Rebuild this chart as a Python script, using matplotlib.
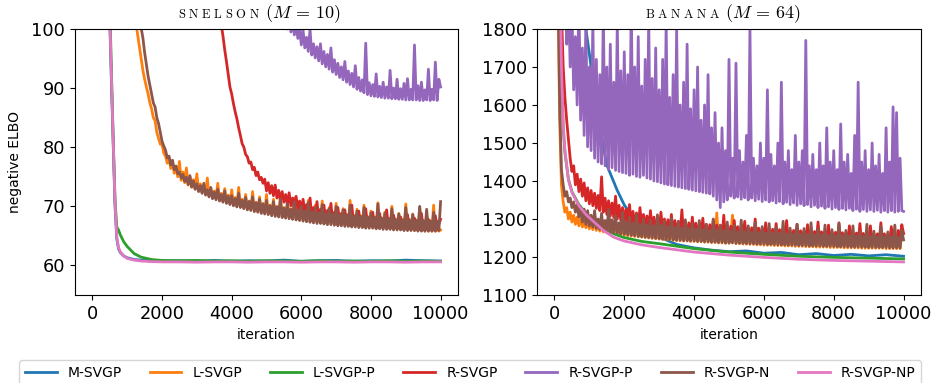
import numpy as np
import matplotlib
matplotlib.use("Agg")
import matplotlib.pyplot as plt

plt.rcParams['mathtext.fontset'] = 'cm'
plt.rcParams['font.family'] = ['DejaVu Sans']

labels = ["M-SVGP", "L-SVGP", "L-SVGP-P", "R-SVGP", "R-SVGP-P", "R-SVGP-N", "R-SVGP-NP"]
colors = ["#1f77b4", "#ff7f0e", "#2ca02c", "#d62728", "#9467bd", "#8c564b", "#e377c2"]

# shared iteration grid for the noisy curves (every 50 iterations)
grid_iter = list(range(0, 10001, 50))

# ---------------- SNELSON (M = 10) ----------------
snel_smooth_iter = [0, 300, 450, 500, 550, 600, 650, 700, 750, 800, 900, 1000, 1200, 1400, 1700, 2000,
                    2500, 3000, 3500, 4000, 4500, 5000, 5500, 6000, 6500, 7000, 7500, 8000, 8500, 9000, 9500, 10000]
snel_m_svgp = [500, 180, 118, 101, 90, 80, 70, 64.5, 62.8, 62.2, 61.6, 61.3, 61.0, 60.9, 60.8, 60.75,
               60.8, 60.7, 60.85, 60.7, 60.8, 60.75, 60.9, 60.7, 60.8, 60.85, 60.7, 60.8, 60.75, 60.9, 60.8, 60.75]
snel_l_svgp_p = [500, 200, 125, 104, 92, 81, 71, 66.5, 66.0, 65.2, 64.0, 63.2, 62.0, 61.4, 61.0, 60.85,
                 60.8, 60.85, 60.75, 60.8, 60.7, 60.8, 60.75, 60.7, 60.8, 60.7, 60.75, 60.7, 60.8, 60.7, 60.75, 60.7]
snel_r_svgp_np = [500, 190, 120, 102, 91, 80.5, 70.5, 64.8, 63.0, 62.3, 61.6, 61.2, 60.9, 60.75, 60.65, 60.6,
                  60.6, 60.55, 60.6, 60.6, 60.55, 60.6, 60.6, 60.55, 60.6, 60.6, 60.55, 60.6, 60.6, 60.55, 60.6, 60.6]

snel_l_svgp = [
    600, 520, 450, 400, 350, 310, 280, 255, 230, 212, 195, 182, 170, 160, 150, 142, 135, 129, 123, 118,
    114, 111, 108, 105.5, 103, 101, 99, 97, 95, 93, 91.5, 90.2, 89, 87.5, 86.5, 85, 84.5, 82.5, 81.5, 80.5,
    80.5, 79, 78.5, 77.3, 78.2, 76.4, 77.5, 75.6, 76.8, 75.0, 77.6, 74.4, 75.8, 74.0, 76.5, 73.6, 75.0, 73.2, 74.5, 72.9,
    75.5, 72.6, 73.8, 72.3, 73.6, 72.0, 74.8, 71.7, 73.0, 71.5, 72.6, 71.3, 73.9, 71.0, 72.2, 70.8, 73.0, 70.6, 71.9, 70.4,
    72.8, 70.2, 71.5, 70.0, 73.2, 69.9, 71.2, 69.7, 72.0, 69.5, 70.9, 69.4, 72.5, 69.2, 70.7, 69.1, 71.6, 68.9, 70.5, 68.8,
    72.0, 68.7, 70.2, 68.6, 71.2, 68.4, 70.0, 68.3, 71.8, 68.2, 69.8, 68.1, 70.8, 68.0, 69.6, 67.9, 71.4, 67.8, 69.5, 67.7,
    70.5, 67.6, 69.3, 67.5, 71.0, 67.4, 69.2, 67.3, 70.2, 67.3, 69.0, 67.2, 70.9, 67.1, 68.9, 67.0, 69.8, 67.0, 68.8, 66.9,
    70.5, 66.9, 68.7, 66.8, 69.6, 66.8, 68.6, 66.7, 71.0, 66.7, 68.5, 66.6, 69.5, 66.6, 68.4, 66.5, 70.2, 66.5, 68.3, 66.4,
    69.2, 66.4, 68.2, 66.3, 70.6, 66.3, 68.1, 66.3, 69.0, 66.2, 68.0, 66.2, 70.0, 66.1, 67.9, 66.1, 68.8, 66.1, 67.8, 66.0,
    70.4, 66.0, 67.8, 66.0, 68.7, 65.9, 67.7, 65.9, 69.8, 65.9, 67.6, 65.8, 68.5, 65.8, 67.6, 65.8, 70.2, 65.8, 67.5, 65.8,
    66.0]
snel_r_svgp = [
    3000, 2500, 2100, 1780, 1520, 1300, 1120, 975, 855, 755, 670, 600, 540, 490, 448, 412, 381, 355, 333, 314,
    297, 282, 268, 256, 245, 235, 226, 218, 210, 203, 196, 190, 184, 178.5, 173, 168, 163.5, 159, 155, 151,
    147.5, 144, 141, 138, 135.5, 133, 130.5, 128.5, 126.5, 124.5, 122.5, 121, 119.5, 118, 116.5, 115, 113.5, 112, 110.7, 109.4,
    132, 129.5, 127, 124.5, 122, 119.5, 117, 114.5, 112, 110, 108, 105.7, 103.3, 101.8, 100.8, 98.8, 96.5, 94.5, 92.3, 90.2,
    89.0, 87.4, 86.0, 84.8, 83.3, 82.0, 80.6, 80.0, 78.8, 78.4, 77.3, 77.5, 76.2, 76.6, 75.2, 75.8, 74.5, 74.9, 73.9, 74.6,
    72.6, 74.0, 72.2, 73.5, 71.8, 73.6, 71.4, 72.7, 71.0, 72.5, 70.7, 72.0, 70.4, 72.3, 70.1, 71.4, 69.8, 71.7, 69.5, 70.9,
    69.2, 71.2, 68.9, 70.3, 68.6, 71.4, 68.3, 69.8, 68.1, 70.8, 67.9, 69.5, 67.8, 70.2, 67.6, 69.3, 67.5, 70.5, 67.4, 69.0,
    67.3, 69.8, 67.2, 68.8, 67.1, 69.4, 67.0, 68.6, 67.0, 70.2, 66.9, 68.4, 66.9, 69.2, 66.8, 68.2, 66.8, 69.6, 66.7, 68.1,
    66.7, 69.0, 66.6, 67.9, 66.6, 68.8, 66.5, 67.8, 66.5, 69.4, 66.4, 67.7, 66.4, 68.5, 66.4, 67.6, 66.3, 68.2, 66.3, 67.5,
    66.3, 68.6, 66.2, 67.4, 66.2, 68.0, 66.2, 67.3, 66.1, 68.8, 66.1, 67.2, 66.1, 67.8, 66.1, 67.1, 66.0, 68.4, 66.0, 67.0,
    67.8]
snel_r_svgp_p = [
    3000, 2800, 2600, 2420, 2250, 2090, 1940, 1800, 1670, 1550, 1440, 1340, 1245, 1160, 1080, 1005, 935, 870, 810, 755,
    705, 658, 615, 575, 538, 504, 472, 443, 416, 391, 368, 347, 327, 309, 292, 277, 263, 250, 238, 227,
    217, 207, 198, 190, 182, 175, 168, 162, 156, 151, 146, 141.5, 137.5, 133.5, 130, 127, 124, 121.5, 119, 117,
    115, 117, 114, 116, 113.5, 115.8, 113, 115, 112.2, 114.3, 111.6, 113.8, 111, 113, 110.4, 112.5, 109.8, 112, 109.3, 111.2,
    108.8, 110.8, 108.2, 110, 107.7, 109.8, 107.1, 109, 106.6, 108.5, 106, 108.2, 105.5, 107.4, 105, 106.8, 104.5, 106.5, 104, 105.8,
    103.5, 105.2, 102.9, 104.5, 102.4, 103.8, 101.8, 103.5, 101.2, 102.8, 100.6, 102.5, 100.0, 101.9, 99.5, 101.2, 99.0, 100.8, 98.4, 100.3,
    97.3, 99.8, 96.8, 98.6, 96.2, 100.0, 95.6, 97.5, 95.1, 97.0, 94.6, 97.5, 94.1, 96.2, 93.6, 95.7, 93.2, 96.8, 92.7, 94.8,
    92.3, 94.2, 91.8, 93.6, 91.4, 94.5, 91.0, 92.9, 90.6, 92.5, 90.2, 93.8, 89.8, 91.8, 89.5, 91.4, 89.2, 97.6, 88.9, 90.9,
    88.7, 90.6, 88.6, 92.4, 88.5, 90.3, 88.4, 91.0, 88.3, 90.2, 88.3, 93.0, 88.2, 90.0, 88.2, 91.5, 88.1, 89.9, 88.1, 90.8,
    88.0, 91.6, 88.0, 89.8, 88.0, 97.3, 88.0, 90.4, 87.9, 91.0, 87.9, 89.7, 88.0, 93.2, 87.9, 89.8, 88.0, 94.4, 87.9, 91.5,
    90.2]
snel_r_svgp_n = [
    700, 610, 520, 460, 400, 355, 320, 290, 260, 237, 215, 199, 185, 173, 162, 153, 145, 138, 132, 126,
    121, 117, 113, 110, 107, 105, 103, 101.5, 100.2, 98.5, 96, 94, 92, 90.5, 89, 87.5, 86.8, 85, 84, 82.5,
    81, 80.2, 79.5, 78.2, 78.5, 77, 77.8, 76.2, 76.8, 75.5, 75.8, 74.8, 75.4, 74.2, 74.9, 73.7, 75.2, 73.3, 74.3, 72.9,
    73.8, 72.5, 73.5, 72.2, 73.9, 71.9, 72.8, 71.6, 73.2, 71.3, 72.4, 71.1, 72.9, 70.9, 72.0, 70.7, 72.6, 70.5, 71.7, 70.3,
    71.8, 70.1, 71.3, 69.9, 72.2, 69.8, 71.0, 69.6, 71.5, 69.4, 70.8, 69.3, 71.6, 69.1, 70.6, 69.0, 71.2, 68.8, 70.4, 68.7,
    71.0, 68.6, 70.1, 68.4, 70.8, 68.3, 69.9, 68.2, 71.2, 68.1, 69.7, 68.0, 70.5, 67.9, 69.5, 67.8, 70.8, 67.7, 69.3, 67.6,
    70.0, 67.5, 69.2, 67.4, 70.6, 67.3, 69.0, 67.2, 69.8, 67.1, 68.9, 67.1, 70.3, 67.0, 68.8, 66.9, 69.6, 66.9, 68.7, 66.8,
    70.0, 66.7, 68.6, 66.7, 69.4, 66.6, 68.5, 66.6, 70.2, 66.5, 68.4, 66.5, 69.2, 66.4, 68.3, 66.4, 69.8, 66.3, 68.2, 66.3,
    68.9, 66.3, 68.1, 66.2, 70.4, 66.2, 68.0, 66.1, 68.8, 66.1, 67.9, 66.1, 69.6, 66.0, 67.8, 66.0, 68.7, 66.0, 67.7, 65.9,
    69.8, 65.9, 67.7, 65.9, 68.6, 65.9, 67.6, 65.8, 70.0, 65.8, 67.6, 65.8, 69.5, 65.8, 67.5, 65.8, 69.0, 65.8, 67.5, 65.9,
    70.8]

# ---------------- BANANA (M = 64) ----------------
ban_m_iter = [0, 500, 800, 900, 1000, 1200, 1500, 1800, 2000, 2300, 2600, 3000, 3500, 4000,
              4500, 5000, 5500, 6000, 6500, 7000, 7500, 8000, 8500, 9000, 9500, 10000]
ban_m_svgp = [6000, 2300, 1900, 1800, 1735, 1590, 1442, 1375, 1337, 1297, 1272, 1253, 1233, 1224,
              1218, 1214, 1216, 1210, 1212, 1206, 1209, 1204, 1207, 1203, 1206, 1202]

ban_smooth_iter = [0, 100, 150, 200, 250, 300, 400, 500, 700, 900, 1100, 1400, 1700, 2000,
                   2500, 3000, 4000, 5000, 6000, 7000, 8000, 9000, 10000]
ban_l_svgp_p = [5000, 2500, 1950, 1680, 1540, 1475, 1405, 1372, 1338, 1315, 1298, 1277, 1261, 1251,
                1241, 1235, 1222, 1213, 1207, 1202, 1199, 1197, 1195]
ban_r_svgp_np = [5000, 2600, 2000, 1700, 1550, 1480, 1403, 1370, 1335, 1312, 1295, 1270, 1252, 1242,
                 1232, 1225, 1213, 1205, 1199, 1194, 1191, 1189, 1187]

ban_l_svgp = [
    4000, 2600, 1900, 1560, 1390, 1345, 1318, 1330, 1300, 1318, 1292, 1310, 1286, 1305, 1282, 1300, 1279, 1296, 1277, 1292,
    1274, 1290, 1272, 1300, 1270, 1288, 1268, 1284, 1266, 1295, 1264, 1282, 1263, 1280, 1262, 1290, 1260, 1278, 1259, 1276,
    1257, 1285, 1256, 1274, 1255, 1272, 1254, 1290, 1253, 1270, 1252, 1268, 1251, 1282, 1250, 1266, 1249, 1275, 1248, 1265,
    1247, 1264, 1246, 1280, 1245, 1262, 1245, 1270, 1244, 1261, 1243, 1278, 1243, 1260, 1242, 1268, 1242, 1259, 1241, 1275,
    1241, 1258, 1240, 1266, 1240, 1257, 1239, 1272, 1239, 1256, 1238, 1264, 1238, 1316, 1237, 1262, 1237, 1255, 1236, 1270,
    1236, 1254, 1310, 1262, 1235, 1253, 1235, 1268, 1234, 1252, 1234, 1260, 1233, 1252, 1233, 1272, 1232, 1251, 1232, 1258,
    1231, 1250, 1231, 1266, 1231, 1250, 1230, 1256, 1230, 1249, 1230, 1270, 1229, 1249, 1229, 1255, 1229, 1248, 1228, 1262,
    1228, 1248, 1228, 1254, 1227, 1247, 1227, 1268, 1227, 1247, 1226, 1252, 1226, 1246, 1226, 1260, 1226, 1246, 1225, 1252,
    1225, 1245, 1225, 1266, 1225, 1245, 1224, 1251, 1224, 1244, 1224, 1258, 1224, 1244, 1224, 1250, 1223, 1244, 1223, 1264,
    1223, 1243, 1223, 1250, 1223, 1243, 1223, 1262, 1223, 1243, 1222, 1249, 1222, 1243, 1222, 1258, 1222, 1243, 1222, 1265,
    1262]
ban_r_svgp = [
    4000, 3300, 2600, 2100, 1850, 1700, 1620, 1560, 1510, 1460, 1425, 1440, 1390, 1418, 1372, 1405, 1360, 1395, 1348, 1382,
    1340, 1375, 1335, 1368, 1328, 1362, 1322, 1411, 1318, 1355, 1312, 1348, 1308, 1342, 1304, 1360, 1300, 1336, 1296, 1330,
    1292, 1326, 1289, 1338, 1286, 1320, 1283, 1316, 1280, 1330, 1278, 1312, 1276, 1308, 1274, 1322, 1272, 1305, 1270, 1302,
    1268, 1318, 1266, 1300, 1264, 1298, 1262, 1312, 1261, 1296, 1260, 1294, 1258, 1324, 1257, 1292, 1256, 1290, 1255, 1305,
    1254, 1289, 1253, 1288, 1252, 1302, 1251, 1286, 1251, 1285, 1250, 1298, 1249, 1284, 1249, 1283, 1248, 1310, 1248, 1282,
    1247, 1281, 1247, 1296, 1246, 1280, 1246, 1279, 1245, 1294, 1245, 1278, 1245, 1277, 1244, 1300, 1244, 1276, 1244, 1275,
    1243, 1290, 1243, 1274, 1243, 1273, 1242, 1288, 1242, 1272, 1242, 1271, 1241, 1296, 1241, 1270, 1241, 1270, 1240, 1286,
    1240, 1269, 1240, 1268, 1240, 1285, 1239, 1268, 1239, 1267, 1239, 1292, 1239, 1266, 1239, 1266, 1238, 1284, 1238, 1265,
    1238, 1265, 1238, 1290, 1238, 1264, 1238, 1264, 1237, 1282, 1237, 1263, 1237, 1263, 1237, 1288, 1237, 1262, 1237, 1262,
    1237, 1282, 1236, 1261, 1236, 1261, 1236, 1290, 1236, 1261, 1236, 1260, 1236, 1280, 1236, 1260, 1236, 1270, 1236, 1285,
    1262]
ban_r_svgp_p = [
    6000, 4500, 3400, 2600, 2100, 1900, 1980, 1760, 1900, 1700, 1850, 1640, 1780, 1600, 1880, 1560, 1750, 1520, 1820, 1490,
    1700, 1480, 1820, 1460, 1720, 1450, 1680, 1445, 1850, 1440, 1700, 1430, 1760, 1435, 1660, 1428, 1820, 1425, 1690, 1422,
    1740, 1420, 1680, 1415, 1880, 1418, 1700, 1412, 1780, 1410, 1650, 1415, 1720, 1408, 1830, 1405, 1670, 1400, 1750, 1398,
    1640, 1395, 1720, 1392, 1820, 1390, 1620, 1388, 1680, 1386, 1800, 1384, 1600, 1382, 1660, 1380, 1760, 1378, 1590, 1376,
    1640, 1374, 1700, 1372, 1560, 1370, 1600, 1368, 1680, 1366, 1540, 1360, 1580, 1350, 1500, 1330, 1540, 1345, 1480, 1350,
    1720, 1360, 1460, 1355, 1710, 1358, 1480, 1352, 1450, 1356, 1520, 1350, 1800, 1355, 1460, 1348, 1440, 1352, 1500, 1346,
    1460, 1350, 1640, 1345, 1470, 1348, 1440, 1342, 1500, 1346, 1660, 1340, 1450, 1344, 1480, 1338, 1430, 1342, 1520, 1336,
    1450, 1340, 1480, 1335, 1770, 1338, 1440, 1332, 1470, 1336, 1430, 1330, 1500, 1334, 1440, 1328, 1540, 1332, 1450, 1326,
    1480, 1330, 1430, 1325, 1550, 1328, 1450, 1324, 1470, 1328, 1420, 1322, 1520, 1326, 1660, 1320, 1450, 1325, 1480, 1320,
    1430, 1324, 1500, 1320, 1440, 1323, 1470, 1318, 1420, 1322, 1540, 1318, 1450, 1322, 1595, 1318, 1580, 1320, 1460, 1322,
    1320]
ban_r_svgp_n = [
    4000, 2700, 1950, 1600, 1430, 1390, 1360, 1372, 1345, 1355, 1330, 1345, 1318, 1338, 1305, 1332, 1292, 1326, 1286, 1322,
    1282, 1310, 1279, 1322, 1276, 1300, 1273, 1315, 1270, 1296, 1268, 1325, 1266, 1298, 1264, 1308, 1263, 1290, 1261, 1318,
    1260, 1292, 1258, 1305, 1257, 1288, 1256, 1312, 1254, 1286, 1253, 1300, 1252, 1284, 1251, 1296, 1250, 1282, 1249, 1311,
    1248, 1283, 1247, 1295, 1246, 1280, 1246, 1302, 1245, 1278, 1244, 1292, 1244, 1276, 1243, 1298, 1243, 1275, 1242, 1288,
    1242, 1274, 1241, 1296, 1241, 1272, 1240, 1286, 1240, 1270, 1239, 1300, 1239, 1271, 1238, 1284, 1238, 1269, 1237, 1292,
    1237, 1268, 1237, 1284, 1236, 1266, 1236, 1297, 1236, 1266, 1235, 1282, 1235, 1265, 1235, 1290, 1234, 1264, 1234, 1280,
    1234, 1263, 1233, 1288, 1233, 1262, 1233, 1278, 1232, 1262, 1232, 1294, 1232, 1261, 1231, 1276, 1231, 1260, 1231, 1286,
    1230, 1260, 1230, 1275, 1230, 1259, 1229, 1290, 1229, 1258, 1229, 1274, 1229, 1258, 1228, 1284, 1228, 1257, 1228, 1272,
    1228, 1256, 1227, 1288, 1227, 1256, 1227, 1270, 1227, 1255, 1226, 1282, 1226, 1255, 1226, 1268, 1226, 1254, 1226, 1286,
    1225, 1254, 1225, 1268, 1225, 1253, 1225, 1280, 1225, 1253, 1225, 1266, 1224, 1253, 1224, 1284, 1224, 1252, 1224, 1270,
    1245]

x_ticks = [0, 2000, 4000, 6000, 8000, 10000]
snel_yticks = [60, 70, 80, 90, 100]
ban_yticks = [1100, 1200, 1300, 1400, 1500, 1600, 1700, 1800]

fig = plt.figure(figsize=(9.32, 3.83), dpi=100)
ax1 = fig.add_axes([75 / 932, 88 / 383, 383 / 932, 266 / 383])
ax2 = fig.add_axes([537 / 932, 88 / 383, 384 / 932, 266 / 383])

snel_series = [(snel_smooth_iter, snel_m_svgp), (grid_iter, snel_l_svgp), (snel_smooth_iter, snel_l_svgp_p),
               (grid_iter, snel_r_svgp), (grid_iter, snel_r_svgp_p), (grid_iter, snel_r_svgp_n),
               (snel_smooth_iter, snel_r_svgp_np)]
ban_series = [(ban_m_iter, ban_m_svgp), (grid_iter, ban_l_svgp), (ban_smooth_iter, ban_l_svgp_p),
              (grid_iter, ban_r_svgp), (grid_iter, ban_r_svgp_p), (grid_iter, ban_r_svgp_n),
              (ban_smooth_iter, ban_r_svgp_np)]

for ax, series in [(ax1, snel_series), (ax2, ban_series)]:
    for (xs, ys), lab, col in zip(series, labels, colors):
        ax.plot(xs, ys, color=col, lw=2, label=lab)
    ax.set_xlim(-500, 10500)
    ax.set_xticks(x_ticks)
    ax.tick_params(labelsize=12.8)
    ax.set_xlabel("iteration", fontsize=10)

ax1.set_ylim(55, 100)
ax1.set_yticks(snel_yticks)
ax1.set_ylabel("negative ELBO", fontsize=10, labelpad=7)
ax2.set_ylim(1100, 1800)
ax2.set_yticks(ban_yticks)

# small-caps style titles
ax1.text(0.483, 1.04, r"$\mathrm{S\ N\ E\ L\ S\ O\ N}$", transform=ax1.transAxes, ha='right',
         va='baseline', fontsize=9)
ax1.text(0.496, 1.04, r"$(M\,=\,10)$", transform=ax1.transAxes, ha='left', va='baseline', fontsize=13)
ax2.text(0.477, 1.04, r"$\mathrm{B\ A\ N\ A\ N\ A}$", transform=ax2.transAxes, ha='right',
         va='baseline', fontsize=9)
ax2.text(0.490, 1.04, r"$(M\,=\,64)$", transform=ax2.transAxes, ha='left', va='baseline', fontsize=13)

handles, labs = ax1.get_legend_handles_labels()
fig.legend(handles, labs, loc='upper left', ncol=7, mode='expand',
           bbox_to_anchor=(19 / 932, 0.0, 902 / 932, 23 / 383), borderaxespad=0,
           fontsize=10, handlelength=2.3)

fig.savefig("out.png", dpi=100)
